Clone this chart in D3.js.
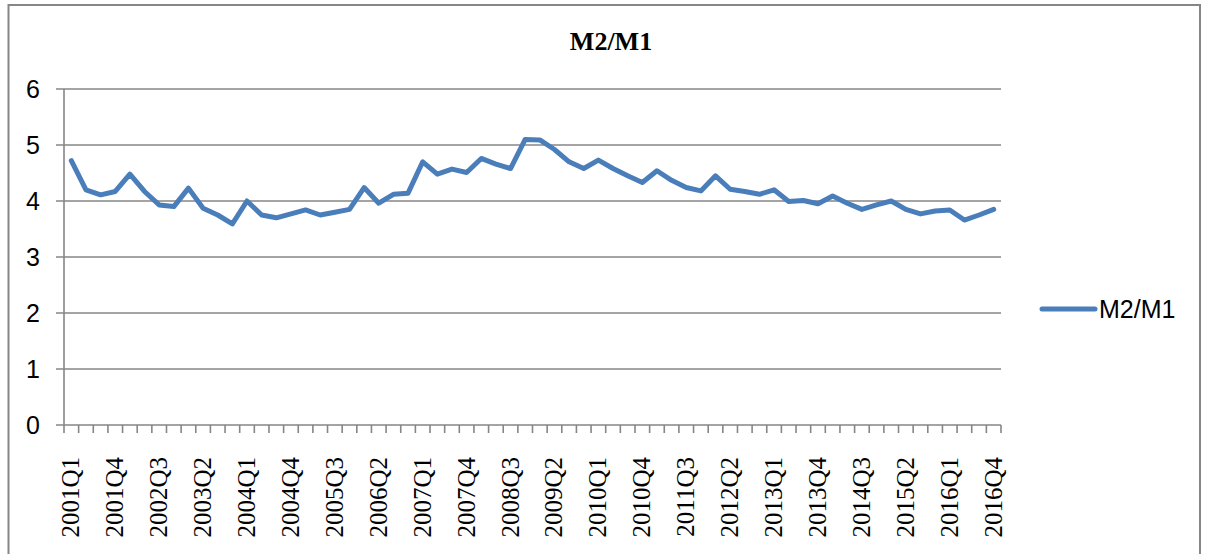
<!DOCTYPE html>
<html><head><meta charset="utf-8">
<script src="https://cdn.jsdelivr.net/npm/d3@7"></script>
<style>html,body{margin:0;padding:0;background:#fff;}svg{display:block;}</style>
</head><body>
<script>
const title = "M2/M1";
const seriesName = "M2/M1";
const years = d3.range(2001, 2017);
const categories = years.flatMap(y => ["Q1","Q2","Q3","Q4"].map(q => y + q));
const values = [4.72,4.20,4.11,4.17,4.48,4.17,3.93,3.90,4.23,3.87,3.75,3.59,4.00,3.75,3.70,3.77,
  3.84,3.75,3.80,3.85,4.24,3.96,4.12,4.14,4.70,4.48,4.57,4.51,4.76,4.66,4.58,5.10,
  5.09,4.92,4.70,4.58,4.73,4.58,4.45,4.33,4.54,4.37,4.24,4.18,4.45,4.21,4.17,4.12,
  4.20,3.99,4.01,3.95,4.09,3.96,3.85,3.93,4.00,3.85,3.77,3.82,3.84,3.66,3.75,3.85];
const yTicks = [0,1,2,3,4,5,6];
const labelCats = categories.filter((c,i) => i % 3 === 0);

const W = 1208, H = 554;
const svg = d3.select("body").append("svg").attr("width", W).attr("height", H);
const grey = "#868686";

// outer frame
svg.append("rect").attr("x", 8.5).attr("y", 5).attr("width", 1191.5).attr("height", 560)
  .attr("fill", "#fff").attr("stroke", grey).attr("stroke-width", 2);

const pLeft = 64, pRight = 1001, pTop = 89, pBottom = 425;
const x = d3.scaleBand().domain(categories).range([pLeft, pRight]).padding(0);
const y = d3.scaleLinear().domain([0, 6]).range([pBottom, pTop]);

// gridlines with left ticks
const g = svg.append("g");
g.selectAll("line.grid").data(yTicks).join("line")
  .attr("x1", pLeft - 8).attr("x2", pRight)
  .attr("y1", d => y(d)).attr("y2", d => y(d))
  .attr("stroke", grey).attr("stroke-width", 1.6);

// y axis line
g.append("line").attr("x1", pLeft).attr("x2", pLeft).attr("y1", pTop).attr("y2", pBottom)
  .attr("stroke", grey).attr("stroke-width", 1.6);

// y labels
g.selectAll("text.yl").data(yTicks).join("text")
  .attr("x", 40).attr("y", d => y(d)).attr("dy", "0.35em")
  .attr("text-anchor", "end")
  .style("font-family", "'Liberation Sans', Arial, sans-serif").style("font-size", "25px")
  .attr("fill", "#000").text(d => d);

// x ticks at category boundaries
const bounds = categories.map(c => x(c)).concat([pRight]);
g.selectAll("line.xt").data(bounds).join("line")
  .attr("x1", d => d).attr("x2", d => d).attr("y1", pBottom).attr("y2", pBottom + 8)
  .attr("stroke", grey).attr("stroke-width", 1.6);

// x labels
g.selectAll("text.xl").data(labelCats).join("text")
  .attr("transform", d => `translate(${x(d) + x.bandwidth()/2 + 8},457) rotate(-90)`)
  .attr("text-anchor", "end")
  .style("font-family", "'Liberation Serif', 'Times New Roman', serif").style("font-size", "25px")
  .attr("fill", "#000").text(d => d);

// line
const line = d3.line().x((d,i) => x(categories[i]) + x.bandwidth()/2).y(d => y(d));
svg.append("path").datum(values).attr("d", line)
  .attr("fill", "none").attr("stroke", "#4a7ebb").attr("stroke-width", 5)
  .attr("stroke-linejoin", "round").attr("stroke-linecap", "round");

// title
svg.append("text").attr("x", 611).attr("y", 50).attr("text-anchor", "middle")
  .style("font-family", "'Liberation Serif', 'Times New Roman', serif").style("font-size", "26px")
  .style("font-weight", "bold").attr("fill", "#000").text(title);

// legend
svg.append("line").attr("x1", 1042).attr("x2", 1095).attr("y1", 309).attr("y2", 309)
  .attr("stroke", "#4a7ebb").attr("stroke-width", 5).attr("stroke-linecap", "round");
svg.append("text").attr("x", 1099).attr("y", 309).attr("dy", "0.35em")
  .style("font-family", "'Liberation Sans', Arial, sans-serif").style("font-size", "25px")
  .attr("fill", "#000").text(seriesName);
</script>
</body></html>
